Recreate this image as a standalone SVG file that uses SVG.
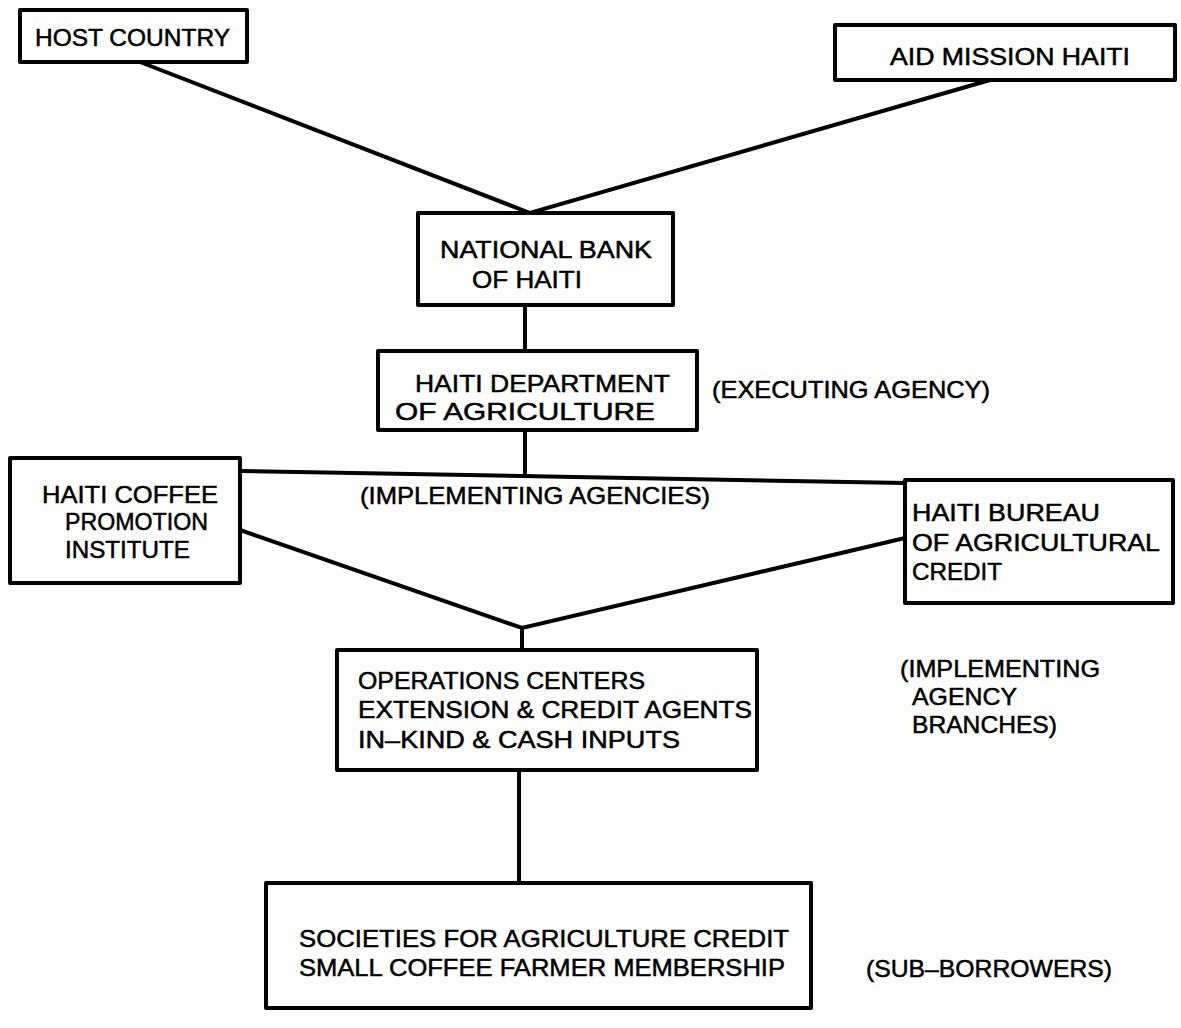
<svg xmlns="http://www.w3.org/2000/svg" width="1181" height="1028" viewBox="0 0 1181 1028">
<style>
.box{fill:#fff;stroke:#000;stroke-width:4;stroke-linejoin:round}
.ln{fill:none;stroke:#000;stroke-width:4;stroke-linecap:round}
text{font-family:"Liberation Sans",Arial,sans-serif;font-size:24px;fill:#000;stroke:#000;stroke-width:0.5}
</style>
<rect width="1181" height="1028" fill="#fff"/>
<g id="connectors">
<polyline class="ln" points="140,62 530,213 990,80"/>
<line class="ln" x1="525" y1="305" x2="525" y2="351"/>
<line class="ln" x1="525" y1="430" x2="525" y2="475"/>
<line class="ln" x1="240" y1="471" x2="905" y2="483"/>
<polyline class="ln" points="240,530 522,628 905,538"/>
<line class="ln" x1="522" y1="628" x2="522" y2="650"/>
<line class="ln" x1="519" y1="770" x2="519" y2="883"/>
</g>
<g id="host-country">
<rect class="box" x="20" y="10" width="227" height="52"/>
<text x="35" y="46" textLength="195" lengthAdjust="spacingAndGlyphs">HOST COUNTRY</text>
</g>
<g id="aid-mission">
<rect class="box" x="835" y="25" width="340" height="55"/>
<text x="890" y="65" textLength="240" lengthAdjust="spacingAndGlyphs">AID MISSION HAITI</text>
</g>
<g id="national-bank">
<rect class="box" x="418" y="213" width="255" height="92"/>
<text x="440" y="258" textLength="212" lengthAdjust="spacingAndGlyphs">NATIONAL BANK</text>
<text x="472" y="288" textLength="110" lengthAdjust="spacingAndGlyphs">OF HAITI</text>
</g>
<g id="dept-agriculture">
<rect class="box" x="378" y="351" width="319" height="79"/>
<text x="415" y="392" textLength="255" lengthAdjust="spacingAndGlyphs">HAITI DEPARTMENT</text>
<text x="395" y="420" textLength="260" lengthAdjust="spacingAndGlyphs">OF AGRICULTURE</text>
</g>
<text x="712" y="398" textLength="278" lengthAdjust="spacingAndGlyphs">(EXECUTING AGENCY)</text>
<g id="coffee-institute">
<rect class="box" x="10" y="458" width="230" height="125"/>
<text x="42" y="503" textLength="176" lengthAdjust="spacingAndGlyphs">HAITI COFFEE</text>
<text x="65" y="530" textLength="143" lengthAdjust="spacingAndGlyphs">PROMOTION</text>
<text x="65" y="558" textLength="125" lengthAdjust="spacingAndGlyphs">INSTITUTE</text>
</g>
<text x="360" y="504" textLength="350" lengthAdjust="spacingAndGlyphs">(IMPLEMENTING AGENCIES)</text>
<g id="bureau-credit">
<rect class="box" x="905" y="480" width="268" height="123"/>
<text x="912" y="521" textLength="188" lengthAdjust="spacingAndGlyphs">HAITI BUREAU</text>
<text x="912" y="551" textLength="248" lengthAdjust="spacingAndGlyphs">OF AGRICULTURAL</text>
<text x="912" y="580" textLength="90" lengthAdjust="spacingAndGlyphs">CREDIT</text>
</g>
<g id="operations-centers">
<rect class="box" x="337" y="650" width="420" height="120"/>
<text x="358" y="689" textLength="287" lengthAdjust="spacingAndGlyphs">OPERATIONS CENTERS</text>
<text x="358" y="718" textLength="394" lengthAdjust="spacingAndGlyphs">EXTENSION &amp; CREDIT AGENTS</text>
<text x="358" y="748" textLength="322" lengthAdjust="spacingAndGlyphs">IN–KIND &amp; CASH INPUTS</text>
</g>
<text x="900" y="677" textLength="200" lengthAdjust="spacingAndGlyphs">(IMPLEMENTING</text>
<text x="912" y="705" textLength="105" lengthAdjust="spacingAndGlyphs">AGENCY</text>
<text x="912" y="733" textLength="145" lengthAdjust="spacingAndGlyphs">BRANCHES)</text>
<g id="societies">
<rect class="box" x="266" y="883" width="545" height="125"/>
<text x="299" y="947" textLength="490" lengthAdjust="spacingAndGlyphs">SOCIETIES FOR AGRICULTURE CREDIT</text>
<text x="299" y="976" textLength="486" lengthAdjust="spacingAndGlyphs">SMALL COFFEE FARMER MEMBERSHIP</text>
</g>
<text x="866" y="977" textLength="246" lengthAdjust="spacingAndGlyphs">(SUB–BORROWERS)</text>
</svg>
